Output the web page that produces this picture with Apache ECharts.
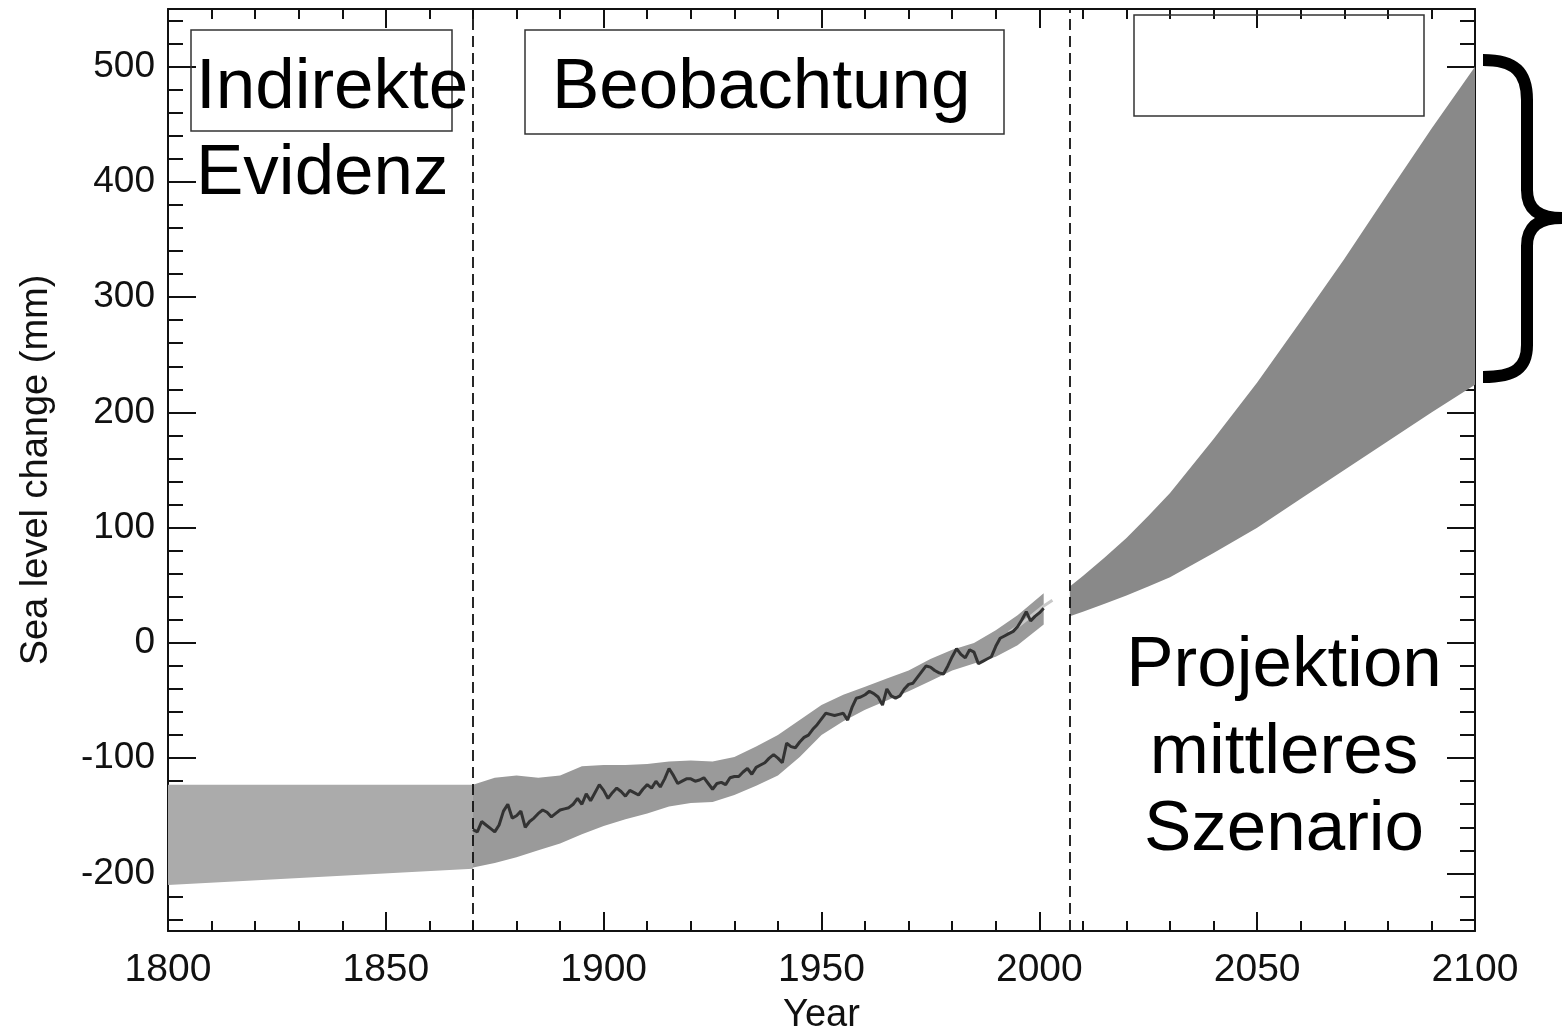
<!DOCTYPE html>
<html>
<head>
<meta charset="utf-8">
<script src="https://cdn.jsdelivr.net/npm/echarts@6/dist/echarts.min.js"></script>
<style>
  html, body { margin: 0; padding: 0; background: #fff; }
  #main { width: 1562px; height: 1032px; }
</style>
</head>
<body>
<div id="main"></div>
<script>
// indirekte Evidenz (1800-1870)
var preYears = [1800, 1870];
var preHi = [-123, -123];
var preLo = [-210, -196];

// Beobachtung: Unsicherheitsband
var obsBandYears = [1870, 1875, 1880, 1885, 1890, 1895, 1900, 1905, 1910, 1915, 1920, 1925, 1930, 1935, 1940, 1945, 1950, 1955, 1960, 1965, 1970, 1975, 1980, 1985, 1990, 1995, 2001];
var obsBandHi = [-123, -117, -115, -117, -115, -107, -106, -106, -105, -103, -102, -103, -99, -90, -80, -67, -54, -45, -38, -31, -24, -14, -6, 0, 11, 24, 43];
var obsBandLo = [-195, -191, -186, -180, -174, -166, -159, -153, -148, -142, -139, -138, -132, -124, -115, -99, -80, -68, -58, -50, -42, -33, -24, -18, -12, -2, 16];

// Pegelmessungen, jaehrlich ab 1870
var obsStart = 1870;
var obsValues = [
  -162, -164, -155, -158, -161, -164, -158, -146, -140, -152,
  -150, -146, -160, -155, -152, -148, -145, -147, -151, -148,
  -145, -144, -143, -140, -135, -140, -131, -137, -130, -123,
  -128, -135, -130, -126, -129, -133, -128, -130, -132, -127,
  -123, -126, -120, -125, -118, -109, -115, -122, -120, -118,
  -118, -120, -119, -117, -122, -127, -122, -121, -123, -117,
  -116, -116, -112, -109, -114, -108, -106, -104, -100, -97,
  -100, -104, -87, -90, -91, -86, -82, -80, -75, -71,
  -66, -61, -62, -63, -62, -61, -67, -56, -48, -47,
  -45, -42, -44, -47, -54, -40, -46, -48, -46, -40,
  -36, -35, -30, -25, -20, -21, -24, -26, -27, -20,
  -12, -5, -10, -13, -6, -8, -18, -16, -14, -12,
  -3, 4, 6, 8, 10, 14, 20, 27, 19, 23,
  26, 30
];

// Satellitenmessung
var satYears = [1993, 1995, 1997, 1999, 2001, 2003];
var satValues = [9, 14, 20, 26, 32, 37];

// Projektion
var projYears = [2007, 2010, 2015, 2020, 2025, 2030, 2040, 2050, 2060, 2070, 2080, 2090, 2100];
var projHi = [49, 58, 74, 91, 110, 130, 177, 226, 279, 333, 390, 446, 500];
var projLo = [23, 27, 34, 41, 49, 57, 78, 100, 125, 150, 175, 200, 224];

var dividers = [1870, 2007];
var yMajor = [-200, -100, 0, 100, 200, 300, 400, 500];
var yMinor = [-240, -220, -180, -160, -140, -120, -80, -60, -40, -20, 20, 40, 60, 80, 120, 140, 160, 180, 220, 240, 260, 280, 320, 340, 360, 380, 420, 440, 460, 480, 520, 540];

var font = '"Liberation Sans", Arial, sans-serif';

function band(years, lo, hi, color) {
  return {
    type: 'custom',
    silent: true,
    z: 1,
    data: years.map(function (y, i) { return [y, lo[i], hi[i]]; }),
    encode: { x: 0, y: [1, 2] },
    renderItem: function (params, api) {
      if (params.dataIndex !== 0) return null;
      var pts = [];
      for (var i = 0; i < years.length; i++) pts.push(api.coord([years[i], hi[i]]));
      for (var j = years.length - 1; j >= 0; j--) pts.push(api.coord([years[j], lo[j]]));
      return { type: 'polygon', shape: { points: pts }, style: { fill: color } };
    }
  };
}

var myChart = echarts.init(document.getElementById('main'));

function xAx(pos) {
  return {
    type: 'value', position: pos, min: 1800, max: 2100, interval: 50,
    name: pos === 'bottom' ? 'Year' : '', nameLocation: 'middle', nameGap: 66,
    nameTextStyle: { fontFamily: font, fontSize: 38, color: '#111' },
    splitLine: { show: false },
    axisLine: { show: true, onZero: false, lineStyle: { color: '#111', width: 2 } },
    axisTick: { inside: true, length: 19, lineStyle: { color: '#111', width: 2 } },
    minorTick: { show: true, splitNumber: 5, length: 10, lineStyle: { color: '#111', width: 2 } },
    axisLabel: { show: pos === 'bottom', margin: 20, fontFamily: font, fontSize: 39, color: '#111',
      formatter: function (v) { return String(v); } }
  };
}

function yAx(pos, major) {
  return {
    type: 'value', position: pos, min: -250, max: 550,
    name: (pos === 'left' && major) ? 'Sea level change (mm)' : '',
    nameLocation: 'middle', nameGap: 112,
    nameTextStyle: { fontFamily: font, fontSize: 38, color: '#111' },
    splitLine: { show: false },
    axisLine: { show: major, onZero: false, lineStyle: { color: '#111', width: 2 } },
    axisTick: { show: true, inside: true, length: major ? 28 : 15, customValues: major ? yMajor : yMinor,
      lineStyle: { color: '#111', width: 2 } },
    axisLabel: { show: pos === 'left' && major, customValues: yMajor, margin: 13,
      fontFamily: font, fontSize: 37, color: '#111' }
  };
}

function bigText(txt, x, y, align) {
  return {
    type: 'text', x: x, y: y, z: 100,
    style: { text: txt, font: '71px ' + font, fill: '#000', textAlign: align, textVerticalAlign: 'middle' }
  };
}

function box(x1, y1, x2, y2) {
  return {
    type: 'rect', z: 90,
    shape: { x: x1, y: y1, width: x2 - x1, height: y2 - y1 },
    style: { fill: 'none', stroke: '#333', lineWidth: 1.5 }
  };
}

var braceStyle = { fill: 'none', stroke: '#000', lineWidth: 12 };
function curve(x1, y1, c1x, c1y, c2x, c2y, x2, y2) {
  return { type: 'bezierCurve', z: 100,
    shape: { x1: x1, y1: y1, cpx1: c1x, cpy1: c1y, cpx2: c2x, cpy2: c2y, x2: x2, y2: y2 },
    style: braceStyle };
}
function seg(x1, y1, x2, y2) {
  return { type: 'line', z: 100, shape: { x1: x1, y1: y1, x2: x2, y2: y2 }, style: braceStyle };
}

var option = {
  animation: false,
  backgroundColor: '#fff',
  grid: { left: 168, right: 87, top: 9, bottom: 101, containLabel: false, outerBoundsMode: 'none' },
  xAxis: [xAx('bottom'), xAx('top')],
  yAxis: [yAx('left', true), yAx('left', false), yAx('right', true), yAx('right', false)],
  series: [
    band(preYears, preLo, preHi, '#ababab'),
    band(obsBandYears, obsBandLo, obsBandHi, '#9a9a9a'),
    band(projYears, projLo, projHi, '#898989'),
    {
      type: 'line', silent: true, z: 3, showSymbol: false,
      data: satYears.map(function (y, i) { return [y, satValues[i]]; }),
      lineStyle: { color: '#c8c8c8', width: 3 }
    },
    {
      type: 'line', silent: true, z: 4, showSymbol: false,
      data: obsValues.map(function (v, i) { return [obsStart + i, v]; }),
      lineStyle: { color: '#333', width: 3 },
      markLine: {
        silent: true, symbol: 'none', label: { show: false },
        lineStyle: { color: '#111', width: 1.8, type: [11, 6] },
        data: dividers.map(function (d) { return { xAxis: d }; })
      }
    }
  ],
  graphic: [
    box(191, 30, 452, 131),
    box(525, 30, 1004, 134),
    box(1134, 15, 1424, 116),
    bigText('Indirekte', 196, 88, 'left'),
    bigText('Evidenz', 196, 174, 'left'),
    bigText('Beobachtung', 552, 88, 'left'),
    bigText('Projektion', 1284, 666, 'center'),
    bigText('mittleres', 1284, 753, 'center'),
    bigText('Szenario', 1284, 830, 'center'),
    curve(1483, 60, 1515, 60, 1527, 72, 1527, 100),
    seg(1527, 99, 1527, 191),
    curve(1527, 190, 1527, 210, 1540, 218, 1562, 218),
    curve(1562, 218, 1540, 218, 1527, 226, 1527, 246),
    seg(1527, 245, 1527, 346),
    curve(1527, 345, 1527, 368, 1515, 377, 1483, 377)
  ]
};

myChart.setOption(option);
</script>
</body>
</html>
